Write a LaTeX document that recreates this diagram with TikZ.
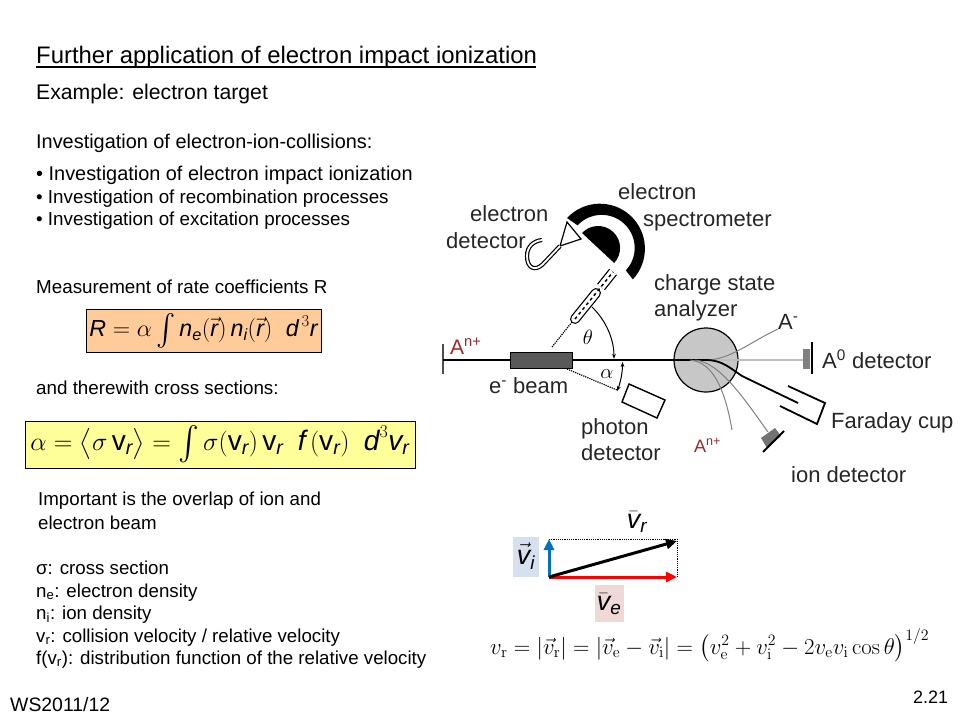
\documentclass[tikz,border=0pt]{standalone}
\usepackage{amsmath}
\usepackage[no-math]{fontspec}
\setmainfont{Liberation Sans}
\usepackage{tikz}
\usetikzlibrary{arrows.meta}
\definecolor{rateorange}{HTML}{FFCC99}
\definecolor{crossyellow}{HTML}{FFFF99}
\definecolor{ionblue}{HTML}{0070C0}
\definecolor{ionpale}{HTML}{D6E0EE}
\definecolor{elecpale}{HTML}{EFD9D7}
\definecolor{ionred}{HTML}{A02828}
\tikzset{
  txt/.style={anchor=base west, inner sep=0pt, font=\fontsize{#1}{#1}\selectfont},
  lbl/.style={anchor=base west, inner sep=0pt, text=black!85, font=\fontsize{22}{22}\selectfont},
  ionlbl/.style={anchor=base west, inner sep=0pt, text=ionred, font=\fontsize{#1}{#1}\selectfont},
  eqbox/.style={draw=black, line width=0.8pt, inner sep=0pt, minimum height=#1},
  vec/.style={line width=3pt, -{Triangle[length=11pt,width=10pt]}},
  greyline/.style={line width=1pt, black!50},
  dotline/.style={line width=1.2pt, densely dotted}
}
\newcommand{\iv}[1]{\textit{#1}}
\newcommand{\tallint}{\mathop{\vcenter{\hbox{\scalebox{1.2}[1.3]{$\int$}}}}}
\begin{document}
\begin{tikzpicture}[x=1pt,y=-1pt]
\useasboundingbox (0,0) rectangle (960,720);
% heading
\node[txt=23.9] (title) at (36,63) {Further application of electron impact ionization};
\draw[line width=1.3pt] (36,67) -- (536,67);
\node[txt=21.2] (example) at (36,99) {Example: electron target};
\node[txt=19.9] (invest) at (36,148) {Investigation of electron-ion-collisions:};
% bullets
\node[txt=19.9] (bulA) at (36,180) {• Investigation of electron impact ionization};
\node[txt=18.8] (bulB) at (36,203) {• Investigation of recombination processes};
\node[txt=18.8] (bulC) at (36,225) {• Investigation of excitation processes};
% rate
\node[txt=18.8] (rate) at (36,293) {Measurement of rate coefficients R};
\node[eqbox=43pt, fill=rateorange, minimum width=235pt] (rateeq) at (203.5,330.5)
  {\resizebox{228pt}{!}{\fontsize{24}{24}\selectfont $\iv{R}=\alpha\tallint\iv{n}_{\iv{e}}(\vec{\iv{r}})\,\iv{n}_{\iv{i}}(\vec{\iv{r}})\;\;\iv{d}^{\,3}\iv{r}$}};
\node[txt=18.8] (cross) at (36,394) {and therewith cross sections:};
\node[eqbox=47pt, fill=crossyellow, minimum width=390pt] (crosseq) at (220,444.5)
  {\resizebox{379pt}{!}{\fontsize{27}{27}\selectfont $\alpha=\bigl\langle\sigma\,\textrm{v}_{\iv{r}}\bigr\rangle=\tallint\sigma(\textrm{v}_{\iv{r}})\,\textrm{v}_{\iv{r}}\;\;\iv{f}\,(\textrm{v}_{\iv{r}})\;\;\iv{d}^{3}\iv{v}_{\iv{r}}$}};
\node[txt=18.7] (overA) at (38,505) {Important is the overlap of ion and};
\node[txt=18.7] (overB) at (38,529) {electron beam};
% symbols
\node[txt=18.7] (symA) at (36,574) {σ: cross section};
\node[txt=18.7] (symB) at (36,597) {n\textsubscript{e}: electron density};
\node[txt=18.7] (symC) at (36,619) {n\textsubscript{i}: ion density};
\node[txt=18.7] (symD) at (36,642) {v\textsubscript{r}: collision velocity / relative velocity};
\node[txt=18.7] (symE) at (36,664) {f(v\textsubscript{r}): distribution function of the relative velocity};
\node[txt=19.4] (term) at (10,711) {WS2011/12};
\node[txt=18] (page) at (913,703) {2.21};
% beam and analyzer
\draw[line width=1.2pt, fill=black!22] (706,360) circle (32);
\draw[line width=1.6pt, black!70] (443,344) -- (443,374);
\draw[line width=1.6pt] (443,360) -- (706,360);
\draw[line width=1pt, fill=black!65] (510,352) rectangle (572,368);
\draw[line width=1.4pt, black!25] (706,360) -- (803,360);
\draw[greyline] (706,360) .. controls (730,360) and (750,342) .. (778,329);
\draw[greyline] (690,360) .. controls (715,362) and (726,395) .. (732,430);
\draw[greyline] (695,360) .. controls (720,362) and (745,400) .. (768,432);
\draw[line width=1.8pt] (706,360) .. controls (722,360) and (730,368) .. (742,376) -- (798,403);
% A0 detector
\fill[black!50] (803,349) rectangle (810,369);
\draw[line width=1.8pt] (812,342) -- (812,374);
% Faraday cup
\draw[line width=1.8pt] (788,386) -- (825,403) -- (817,424) -- (780,406);
% ion detector
\fill[black!55] (761,438) -- (775,428) -- (781,436) -- (767,448) -- cycle;
\draw[line width=2pt] (784,431) -- (763,452);
% photon detector
\draw[line width=1.4pt] (629,384) -- (665,400) -- (657,418) -- (622,402) -- cycle;
\draw[dotline] (567,369) -- (617,390);
\draw[dotline] (552,347) -- (572,322);
% spectrometer
\fill (567,218) arc (-137:43:45) -- ++(-7,-9) arc (43:-137:33) -- cycle;
\fill (582,233) arc (-137:43:22) -- cycle;
\draw[line width=10pt, line cap=round] (575,319) -- (596,293);
\draw[line width=7.5pt, white, line cap=round] (575,319) -- (596,293);
\draw[line width=10pt] (601,287) -- (613,272);
\draw[line width=7.5pt, white] (601,287) -- (613,272);
\draw[line width=1.5pt, dashed] (575,319) -- (613,272);
% electron detector
\draw[line width=1.2pt, fill=white] (567,222) -- (581,239) -- (560,246) -- cycle;
\draw[line width=1.2pt, double=white, double distance=1.8pt] (560,246) -- (543,264)
  .. controls (535,272) and (527,268) .. (527,256)
  .. controls (527,246) and (534,241) .. (542,240);
% angles
\draw[line width=1pt, -{Stealth[length=5pt]}] (592,307) arc (-46:0:72);
\draw[line width=1pt, {Stealth[length=5pt]}-{Stealth[length=5pt]}] (622.5,362) arc (0:21:81);
\node[lbl, text=black, anchor=center] (theta) at (588,337) {$\theta$};
\node[lbl, text=black, anchor=center] (alpha) at (607,374) {$\alpha$};
% labels
\node[lbl] (edetA) at (470,221) {electron};
\node[lbl] (edetB) at (446,248) {detector};
\node[lbl] (specA) at (618,199) {electron};
\node[lbl] (specB) at (643,226) {spectrometer};
\node[lbl] (chargeA) at (654,290) {charge state};
\node[lbl] (chargeB) at (654,316) {analyzer};
\node[lbl] (aminus) at (778,329) {A\textsuperscript{-}};
\node[lbl] (azero) at (822,368) {A\textsuperscript{0} detector};
\node[lbl] (faraday) at (831,428) {Faraday cup};
\node[lbl] (iondet) at (791,482) {ion detector};
\node[lbl] (photA) at (581,434) {photon};
\node[lbl] (photB) at (581,460) {detector};
\node[lbl] (ebeam) at (489,393) {e\textsuperscript{-} beam};
\node[ionlbl=21] (ionA) at (450,354) {A\textsuperscript{n+}};
\node[ionlbl=18] (ionB) at (694,452) {A\textsuperscript{n+}};
% velocities
\fill[ionpale] (513,537) rectangle (539,577);
\fill[elecpale] (595,585) rectangle (624,622);
\coordinate (orig) at (549,577);
\coordinate (tipi) at (549,539);
\coordinate (tipe) at (677,577);
\coordinate (tipr) at (677,541);
\coordinate (corner) at (677,539);
\draw[dotline, line width=1pt] (tipi) -- (corner) -- (tipe);
\draw[vec, ionblue] (orig) -- (tipi);
\draw[vec, red] (orig) -- (tipe);
\draw[vec, black] (orig) -- (tipr);
\node[anchor=center, inner sep=0pt] (vi) at (526,556) {\fontsize{27}{27}\selectfont $\vec{\iv{v}}_{\iv{i}}$};
\node[anchor=center, inner sep=0pt] (ve) at (609,604) {\fontsize{27}{27}\selectfont $\bar{\iv{v}}_{\iv{e}}$};
\node[anchor=center, inner sep=0pt] (vr) at (637,522) {\fontsize{27}{27}\selectfont $\bar{\iv{v}}_{\iv{r}}$};
\node[anchor=base west, inner sep=0pt] (vform) at (490,654)
  {\resizebox{439pt}{!}{\fontsize{21.9}{21.9}\selectfont $v_{\mathrm{r}}=|\vec{v}_{\mathrm{r}}|=|\vec{v}_{\mathrm{e}}-\vec{v}_{\mathrm{i}}|=\bigl(v_{\mathrm{e}}^2+v_{\mathrm{i}}^2-2v_{\mathrm{e}}v_{\mathrm{i}}\cos\theta\bigr)^{1/2}$}};
\end{tikzpicture}
\end{document}
